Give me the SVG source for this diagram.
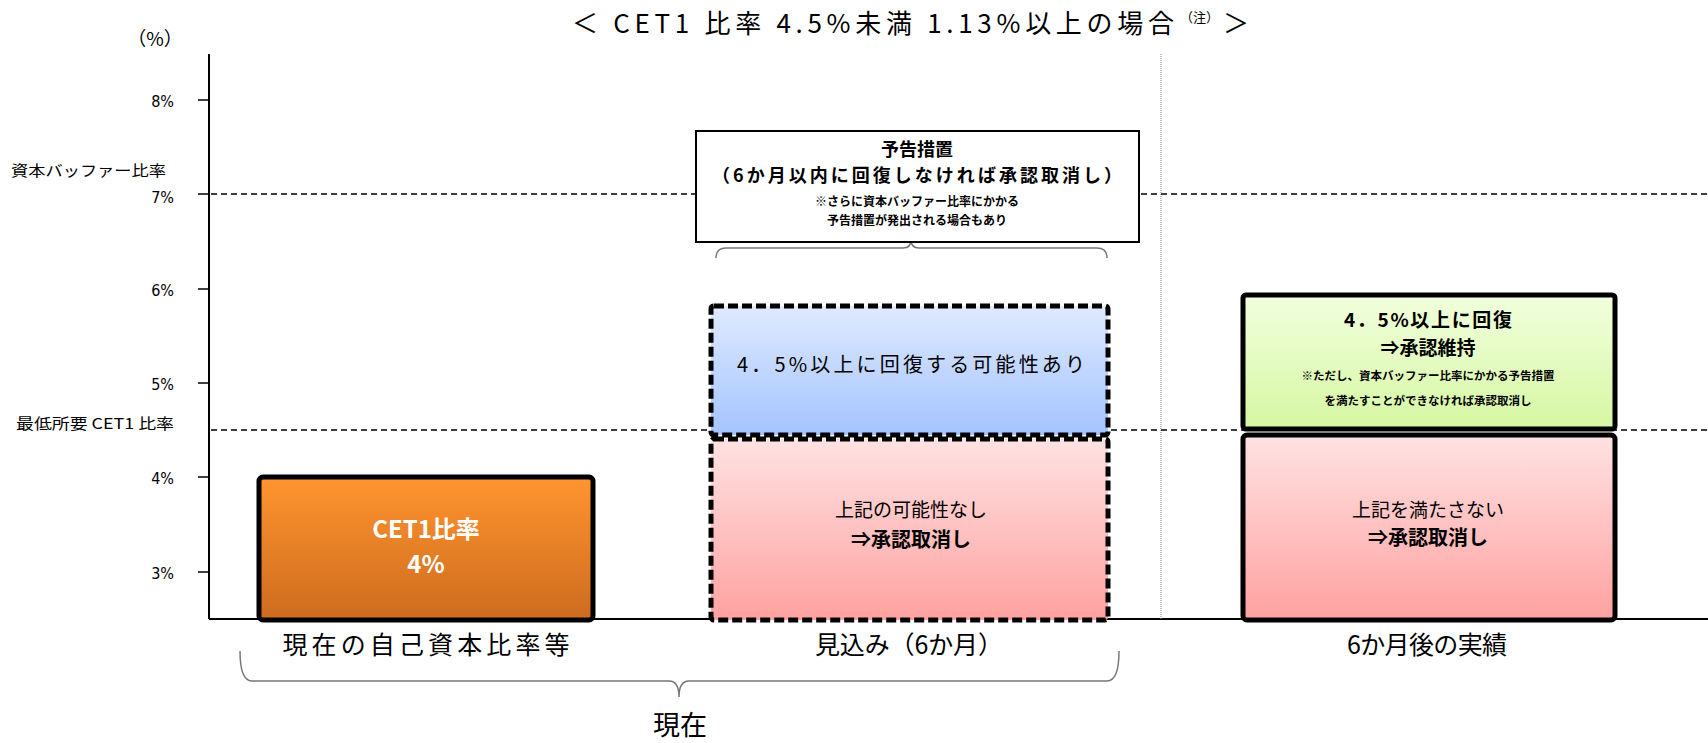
<svg xmlns="http://www.w3.org/2000/svg" width="1708" height="743" viewBox="0 0 1708 743">
<style>
text{font-family:"Noto Sans CJK JP","Liberation Sans",sans-serif;fill:#000}
.tick{font-family:"DejaVu Sans Condensed","Liberation Sans","Noto Sans CJK JP",sans-serif;font-size:16px;text-anchor:end}
.lbl{font-size:15px}
.c{text-anchor:middle}
.b{font-weight:bold}
.cat{font-size:25px;text-anchor:middle}
.dash{stroke:#000;stroke-width:1.5;stroke-dasharray:6,4;fill:none}
.axis{stroke:#000;stroke-width:2;fill:none}
.solidbox{stroke:#000;stroke-width:5}
.dashbox{stroke:#000;stroke-width:5;stroke-dasharray:10,4}
.brace{stroke:#777;stroke-width:1.5;fill:none}
</style>
<defs>
<linearGradient id="gOrange" x1="0" y1="0" x2="0" y2="1"><stop offset="0" stop-color="#FF952F"/><stop offset="1" stop-color="#CD6B1F"/></linearGradient>
<linearGradient id="gBlue" x1="0" y1="0" x2="0" y2="1"><stop offset="0" stop-color="#DFEAFF"/><stop offset="1" stop-color="#A4C3FF"/></linearGradient>
<linearGradient id="gPink" x1="0" y1="0" x2="0" y2="1"><stop offset="0" stop-color="#FFE2E2"/><stop offset="1" stop-color="#FFA1A1"/></linearGradient>
<linearGradient id="gGreen" x1="0" y1="0" x2="0" y2="1"><stop offset="0" stop-color="#F1FFDE"/><stop offset="1" stop-color="#D6F7A2"/></linearGradient>
</defs>
<rect width="1708" height="743" fill="#fff"/>

<!-- title -->
<g id="title">
<text x="572" y="33" font-size="26" textLength="602" lengthAdjust="spacing">＜ CET1 比率 4.5%未満 1.13%以上の場合</text>
<text x="1180" y="22" font-size="13">（注）</text>
<text x="1249" y="33" font-size="26" text-anchor="end">＞</text>
</g>

<!-- axes -->
<g id="axes">
<text x="155" y="46" font-size="19" class="c">（%）</text>
<line x1="209" y1="54" x2="209" y2="619" class="axis"/>
<line x1="209" y1="619" x2="1708" y2="619" class="axis"/>
<g stroke="#000" stroke-width="1.5">
<line x1="198" y1="100" x2="209" y2="100"/>
<line x1="198" y1="194" x2="209" y2="194"/>
<line x1="198" y1="289" x2="209" y2="289"/>
<line x1="198" y1="383" x2="209" y2="383"/>
<line x1="198" y1="477" x2="209" y2="477"/>
<line x1="198" y1="572" x2="209" y2="572"/>
</g>
<text x="174" y="107" class="tick">8%</text>
<text x="174" y="203" class="tick">7%</text>
<text x="174" y="296" class="tick">6%</text>
<text x="174" y="390" class="tick">5%</text>
<text x="174" y="484" class="tick">4%</text>
<text x="174" y="579" class="tick">3%</text>
<text x="11" y="176" class="lbl" textLength="155" lengthAdjust="spacingAndGlyphs">資本バッファー比率</text>
<text x="16" y="429" class="lbl" textLength="158" lengthAdjust="spacingAndGlyphs">最低所要 CET1 比率</text>
<line x1="1161" y1="54" x2="1161" y2="619" stroke="#888" stroke-width="1" stroke-dasharray="1,1"/>
</g>

<!-- reference lines and braces -->
<g id="connectors">
<line x1="211" y1="194" x2="1708" y2="194" class="dash"/>
<line x1="211" y1="430" x2="1708" y2="430" class="dash"/>
<path class="brace" d="M716,258 Q716,248 726,248 L903,248 Q911,248 911,240 Q911,248 919,248 L1097,248 Q1107,248 1107,258"/>
<path class="brace" d="M240,651 Q240,681 252,681 L669,681 Q679,681 679,697 Q679,681 689,681 L1107,681 Q1119,681 1119,651"/>
</g>

<!-- notice box -->
<g id="notice">
<rect x="696" y="131" width="443" height="111" fill="#fff" stroke="#000" stroke-width="2"/>
<text x="917" y="156" font-size="18" class="c b">予告措置</text>
<text x="917" y="182" font-size="18" class="c b" textLength="410" lengthAdjust="spacing">（6か月以内に回復しなければ承認取消し）</text>
<text x="917" y="206" font-size="12" class="c b">※さらに資本バッファー比率にかかる</text>
<text x="917" y="225" font-size="12" class="c b">予告措置が発出される場合もあり</text>
</g>

<!-- current -->
<g id="current">
<rect x="259" y="477" width="334" height="143" rx="4" fill="url(#gOrange)" class="solidbox"/>
<text x="426" y="538" font-size="24" class="c b" style="fill:#fff">CET1比率</text>
<text x="426" y="573" font-size="24" class="c b" style="fill:#fff">4%</text>
<text x="426" y="654" class="cat" textLength="287" lengthAdjust="spacing">現在の自己資本比率等</text>
</g>

<!-- forecast -->
<g id="forecast-up">
<rect x="711" y="306" width="397" height="129" rx="3" fill="url(#gBlue)" class="dashbox"/>
<text x="911" y="372" font-size="20" class="c" textLength="348" lengthAdjust="spacing">4．5%以上に回復する可能性あり</text>
</g>
<g id="forecast-down">
<rect x="711" y="439" width="397" height="181" rx="3" fill="url(#gPink)" class="dashbox"/>
<text x="911" y="517" font-size="19" class="c">上記の可能性なし</text>
<text x="911" y="547" font-size="20" class="c b">⇒承認取消し</text>
<text x="909" y="654" class="cat" textLength="188" lengthAdjust="spacing">見込み（6か月）</text>
</g>

<!-- result -->
<g id="result-up">
<rect x="1243" y="295" width="372" height="134" rx="3" fill="url(#gGreen)" class="solidbox"/>
<text x="1428" y="327" font-size="19" class="c b" textLength="168" lengthAdjust="spacing">4．5%以上に回復</text>
<text x="1428" y="355" font-size="19" class="c b">⇒承認維持</text>
<text x="1428" y="380" font-size="11.5" class="c b">※ただし、資本バッファー比率にかかる予告措置</text>
<text x="1428" y="405" font-size="11.5" class="c b">を満たすことができなければ承認取消し</text>
</g>
<g id="result-down">
<rect x="1243" y="435" width="372" height="185" rx="4" fill="url(#gPink)" class="solidbox"/>
<text x="1428" y="517" font-size="19" class="c">上記を満たさない</text>
<text x="1428" y="545" font-size="20" class="c b">⇒承認取消し</text>
<text x="1427" y="654" class="cat" textLength="160" lengthAdjust="spacing">6か月後の実績</text>
</g>

<g id="now">
<text x="680" y="735" font-size="27" class="c">現在</text>
</g>
</svg>
